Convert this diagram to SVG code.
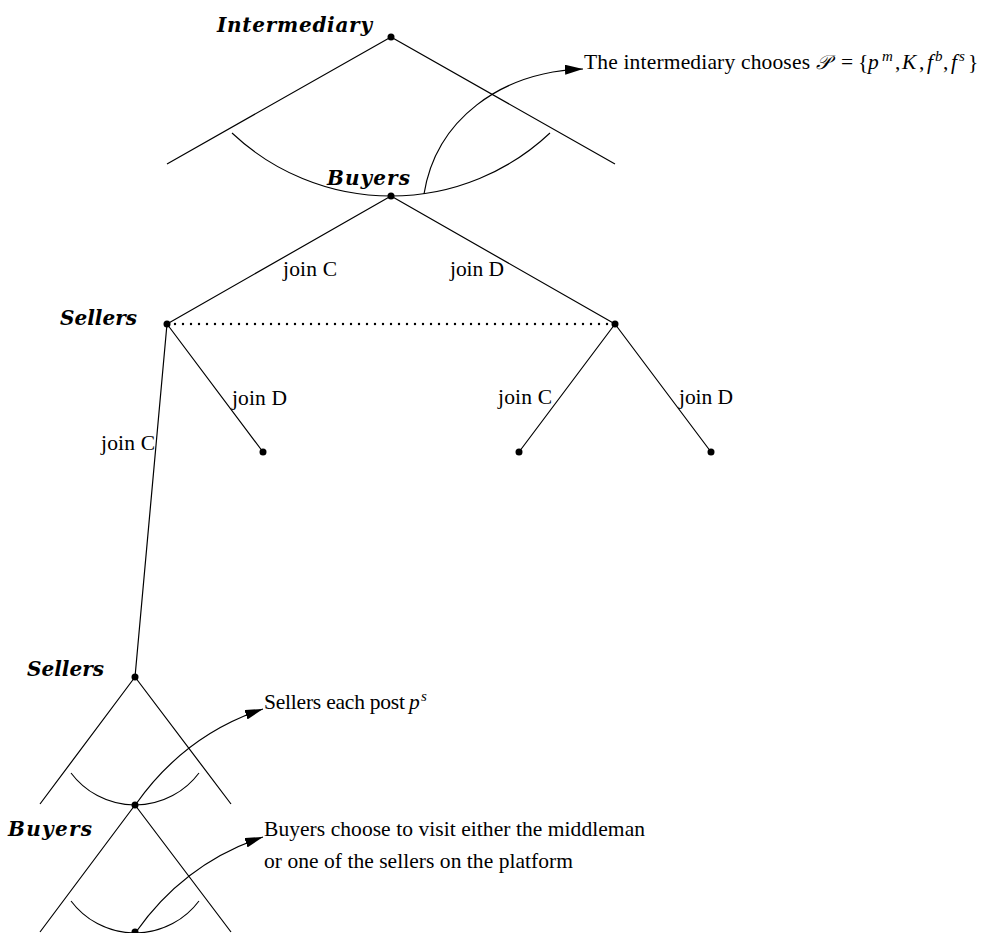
<svg xmlns="http://www.w3.org/2000/svg" width="985" height="933" viewBox="0 0 985 933">
<style>
.e{fill:none;stroke:#000;stroke-width:1.2}
.arc{fill:none;stroke:#000;stroke-width:1.1}
.dot{fill:#000}
.pl{font-family:"Liberation Serif",serif;font-size:21.5px;fill:#000}
.bi{font-family:"DejaVu Serif",serif;font-size:20px;font-weight:bold;font-style:italic;fill:#000}
.it{font-style:italic}
.sup{font-size:15px}
</style>
<defs>
<marker id="ah" viewBox="0 0 18 10" refX="18" refY="5" markerWidth="18" markerHeight="10" markerUnits="userSpaceOnUse" orient="auto">
<path d="M0,0 L18,5 L0,10 Z" fill="#000"/>
</marker>
</defs>
<rect width="985" height="933" fill="#fff"/>
<g id="connectors">
<path class="e" d="M391 37 L167 164 M391 37 L615 164"/>
<path class="arc" d="M232 133 A232 232 0 0 0 550 133"/>
<path class="e" d="M391 196 L167 324 M391 196 L615 324"/>
<path d="M167 324 L615 324" fill="none" stroke="#000" stroke-width="2.4" stroke-linecap="round" stroke-dasharray="0 8"/>
<path class="e" d="M167 324 L263 452 M167 324 L135 677"/>
<path class="e" d="M615 324 L519 452 M615 324 L711 452"/>
<path class="e" d="M135 677 L40 804 M135 677 L231 804"/>
<path class="arc" d="M71 773 A80 80 0 0 0 199 773"/>
<path class="e" d="M135 805 L40 932 M135 805 L231 932"/>
<path class="arc" d="M71 901 A80 80 0 0 0 199 901"/>
<path class="e" d="M424 194 C436 120 500 72 583 69" marker-end="url(#ah)"/>
<path class="e" d="M136 804 C160 770 200 730 263 709" marker-end="url(#ah)"/>
<path class="e" d="M136 932 C160 898 200 858 263 837" marker-end="url(#ah)"/>
</g>
<g id="edge-labels">
<text class="pl" x="283" y="276" textLength="54">join C</text>
<text class="pl" x="450" y="276" textLength="54">join D</text>
<text class="pl" x="232" y="405" textLength="55">join D</text>
<text class="pl" x="101" y="450" textLength="54">join C</text>
<text class="pl" x="498" y="404" textLength="54">join C</text>
<text class="pl" x="679" y="404" textLength="54">join D</text>
</g>
<g id="node-intermediary">
<circle class="dot" cx="391" cy="37" r="3.5"/>
<text class="bi" x="217" y="32" textLength="155">Intermediary</text>
</g>
<g id="node-buyers-1">
<circle class="dot" cx="391" cy="196" r="3.5"/>
<text class="bi" x="327" y="185" textLength="83">Buyers</text>
</g>
<g id="node-sellers-left">
<circle class="dot" cx="167" cy="324" r="3.5"/>
<text class="bi" x="60" y="325" textLength="77">Sellers</text>
</g>
<g id="node-sellers-right">
<circle class="dot" cx="615" cy="324" r="3.5"/>
</g>
<g id="node-leaf-1"><circle class="dot" cx="263" cy="452" r="3.5"/></g>
<g id="node-leaf-2"><circle class="dot" cx="519" cy="452" r="3.5"/></g>
<g id="node-leaf-3"><circle class="dot" cx="711" cy="452" r="3.5"/></g>
<g id="node-sellers-2">
<circle class="dot" cx="135" cy="677" r="3.5"/>
<text class="bi" x="27" y="676" textLength="77">Sellers</text>
</g>
<g id="node-buyers-2">
<circle class="dot" cx="135" cy="805" r="3.5"/>
<text class="bi" x="8" y="836" textLength="84">Buyers</text>
</g>
<g id="node-end">
<circle class="dot" cx="135" cy="932" r="3.5"/>
</g>
<g id="annotations">
<text class="pl"><tspan x="584" y="69" textLength="226">The intermediary chooses</tspan><tspan class="it" x="816" y="69" font-size="20" font-family="'DejaVu Serif',serif">𝒫</tspan><tspan x="841" y="69">=</tspan><tspan x="858" y="69">{</tspan><tspan class="it" x="868" y="69">p</tspan><tspan class="sup it" x="882" y="61">m</tspan><tspan x="895" y="69">,</tspan><tspan class="it" x="902" y="69">K</tspan><tspan x="919" y="69">,</tspan><tspan class="it" x="927" y="69">f</tspan><tspan class="sup it" x="935" y="61">b</tspan><tspan x="943" y="69">,</tspan><tspan class="it" x="951" y="69">f</tspan><tspan class="sup it" x="959" y="61">s</tspan><tspan x="968" y="69">}</tspan></text>
<text class="pl"><tspan x="264" y="709" textLength="141">Sellers each post</tspan><tspan class="it" x="409" y="709">p</tspan><tspan class="sup it" x="421" y="701">s</tspan></text>
<text class="pl" x="264" y="836" textLength="381">Buyers choose to visit either the middleman</text>
<text class="pl" x="264" y="868" textLength="309">or one of the sellers on the platform</text>
</g>
</svg>
